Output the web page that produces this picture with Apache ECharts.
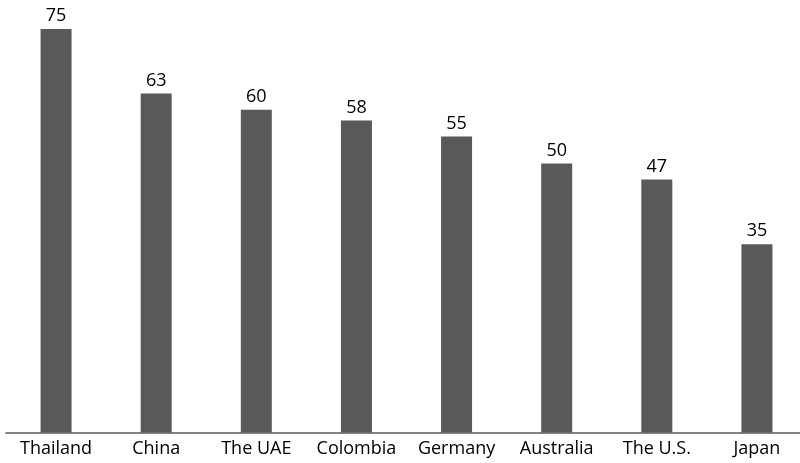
<!DOCTYPE html>
<html>
<head>
<meta charset="utf-8">
<script src="https://cdn.jsdelivr.net/npm/echarts@6/dist/echarts.min.js"></script>
<style>
  html, body { margin: 0; padding: 0; background: #fff; overflow: hidden; }
  #chart { width: 807px; height: 463px; }
</style>
</head>
<body>
<div id="chart"></div>
<script>
// Countries and their scores
const countries = ['Thailand', 'China', 'The UAE', 'Colombia', 'Germany', 'Australia', 'The U.S.', 'Japan'];
const scores = [75, 63, 60, 58, 55, 50, 47, 35];

const chart = echarts.init(document.getElementById('chart'));
chart.setOption({
  animation: false,
  grid: { left: 6, right: 0, top: 2, height: 430.5, containLabel: false },
  xAxis: {
    type: 'category',
    data: countries,
    axisLine: { show: true, lineStyle: { color: '#595959', width: 1.5 } },
    axisTick: { show: false },
    axisLabel: {
      color: '#000',
      fontFamily: 'Open Sans, Noto Sans, sans-serif',
      fontSize: 18,
      margin: 7,
      interval: 0
    }
  },
  yAxis: {
    type: 'value',
    min: 0,
    max: 80,
    show: false,
    splitLine: { show: false }
  },
  series: [{
    type: 'bar',
    data: scores,
    barWidth: 31,
    itemStyle: { color: '#595959' },
    label: {
      show: true,
      position: 'top',
      distance: 4,
      color: '#000',
      fontFamily: 'Open Sans, Noto Sans, sans-serif',
      fontSize: 18
    }
  }]
});
</script>
</body>
</html>
